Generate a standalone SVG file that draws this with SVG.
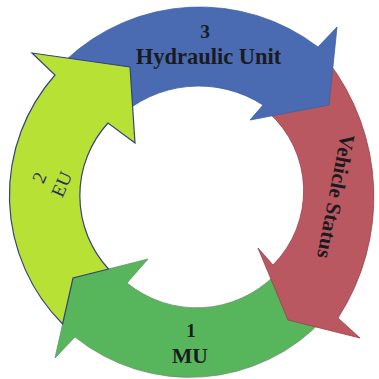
<svg xmlns="http://www.w3.org/2000/svg" width="379" height="379" viewBox="0 0 379 379">
<style>
  .arrow { stroke-linejoin: miter; }
  #mu .arrow { fill: #57B55C; stroke: #6E8F70; stroke-width: 0.8; }
  #vehicle .arrow { fill: #BA5862; stroke: #9C3F49; stroke-width: 0.8; }
  #hydraulic .arrow { fill: #4A6BB2; stroke: #3F5FA5; stroke-width: 0.8; }
  #eu .arrow { fill: #B7E135; stroke: #34457A; stroke-width: 1.2; }
  .lbl { font-family: "Liberation Serif", "Times New Roman", serif; font-weight: bold; fill: #1B1B1F; text-anchor: middle; }
  .reg { font-family: "Liberation Serif", "Times New Roman", serif; font-weight: normal; fill: #2A3066; text-anchor: middle; }
</style>
<rect width="379" height="379" fill="#FFFFFF"/>
<g id="connectors"></g>
<g id="mu">
  <path class="arrow" d="M323.8,318.8 A183,183 0 0,1 75,337 L55,358 L73,278 L148,259 L127,283 A110,110 0 0,0 275,275 Z"/>
  <text class="lbl" x="191" y="337" font-size="19">1</text>
  <text class="lbl" x="190" y="363" font-size="21.5">MU</text>
</g>
<g id="vehicle">
  <path class="arrow" d="M327,60 A223,223 0 0,1 338,318 L360,338 L288,320 L258,248 L273,265 A105,105 0 0,0 268,112 Z"/>
  <text class="lbl" font-size="21" transform="translate(329,195) rotate(101)" x="0" y="0">Vehicle Status</text>
</g>
<g id="hydraulic">
  <path class="arrow" d="M66,60 A195,195 0 0,1 318,47 L337,27 L329,105 L250,120 L263,105 A118,118 0 0,0 117,119 Z"/>
  <text class="lbl" x="205" y="38" font-size="19.5">3</text>
  <text class="lbl" x="208.5" y="64" font-size="22.5">Hydraulic Unit</text>
</g>
<g id="eu">
  <path class="arrow" d="M62.6,324 A182,182 0 0,1 55,75 L32,53 L130,67 L135,143 L108,123 A108,108 0 0,0 108.5,269 L73,278 Z"/>
  <g transform="translate(61,184) rotate(-66)">
    <text class="reg" x="-3" y="-16" font-size="19">2</text>
    <text class="reg" x="0" y="7" font-size="19">EU</text>
  </g>
</g>
</svg>
